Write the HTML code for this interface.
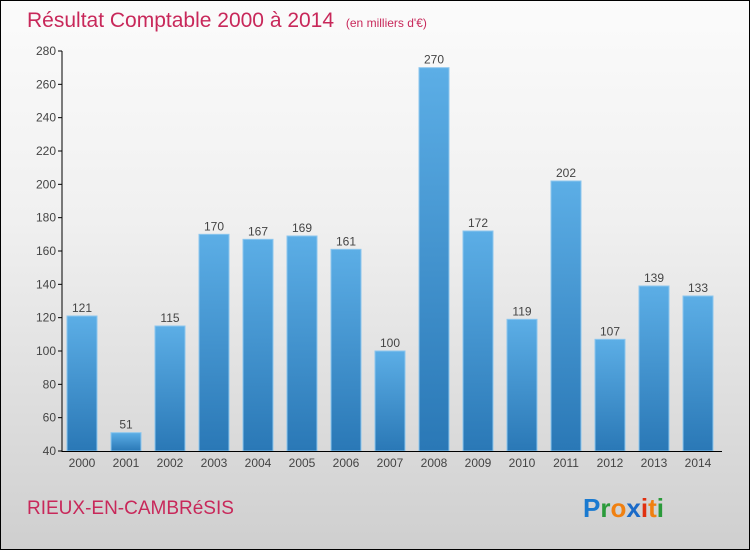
<!DOCTYPE html>
<html><head><meta charset="utf-8"><style>
body{margin:0;}
#c{width:748px;height:548px;border:1px solid #000;position:relative;background:linear-gradient(#fbfbfb,#f0f0f0 40%,#cfcfcf);font-family:"Liberation Sans",sans-serif;overflow:hidden}
svg{position:absolute;left:0;top:0}
</style></head><body>
<div id="c">
<svg id="s" width="748" height="548">
<defs><linearGradient id="g" x1="0" y1="0" x2="0" y2="1"><stop offset="0" stop-color="#5caee6"/><stop offset="1" stop-color="#2a78b6"/></linearGradient></defs>
<text x="26" y="26" font-size="21" fill="#c8285a">Résultat Comptable 2000 à 2014 <tspan font-size="12" dx="6">(en milliers d'€)</tspan></text>
<text x="26" y="513" font-size="19" fill="#c8285a">RIEUX-EN-CAMBRéSIS</text>
<text x="582" y="516" font-size="26" font-weight="bold"><tspan fill="#1a7ad0">P</tspan><tspan fill="#2a9a3a">r</tspan><tspan fill="#f08010">o</tspan><tspan fill="#1a6ac8">x</tspan><tspan fill="#e03010">i</tspan><tspan fill="#f08010">t</tspan><tspan fill="#2a9a3a">i</tspan></text>
</svg>
</div>
<script>
const years=["2000","2001","2002","2003","2004","2005","2006","2007","2008","2009","2010","2011","2012","2013","2014"];
const values=[121,51,115,170,167,169,161,100,270,172,119,202,107,139,133];
const ticks=[40,60,80,100,120,140,160,180,200,220,240,260,280];
const s=document.getElementById('s'),NS="http://www.w3.org/2000/svg";
const y=v=>450-(v-40)*(400/240);
const x=i=>81+i*44;
function el(t,a,txt){const e=document.createElementNS(NS,t);for(const k in a)e.setAttribute(k,a[k]);if(txt!=null)e.textContent=txt;s.appendChild(e);return e;}
ticks.forEach(t=>{
 const l=el('line',{x1:57,x2:61,y1:y(t),y2:y(t),stroke:'#000'});
 
 
 const tx=el('text',{x:55,y:y(t)+4,'font-size':12,'text-anchor':'end',fill:'#444'},t);
 
 
});
values.forEach((v,i)=>{
 const r=el('rect',{x:x(i)-15,y:y(v),width:30,height:450-y(v),fill:'url(#g)',stroke:'#8cc6ee','stroke-width':1});
 
 
 const lb=el('text',{x:x(i),y:y(v)-4,'font-size':12,'text-anchor':'middle',fill:'#444'},v);
 
 
 const xl=el('text',{x:x(i),y:466,'font-size':12,'text-anchor':'middle',fill:'#444'},years[i]);
 
 
});
const ya=el('line',{x1:61,x2:61,y1:50,y2:451,stroke:'#000'});


const xa=el('line',{x1:61,x2:721,y1:450.5,y2:450.5,stroke:'#000'});


</script>
</body></html>
